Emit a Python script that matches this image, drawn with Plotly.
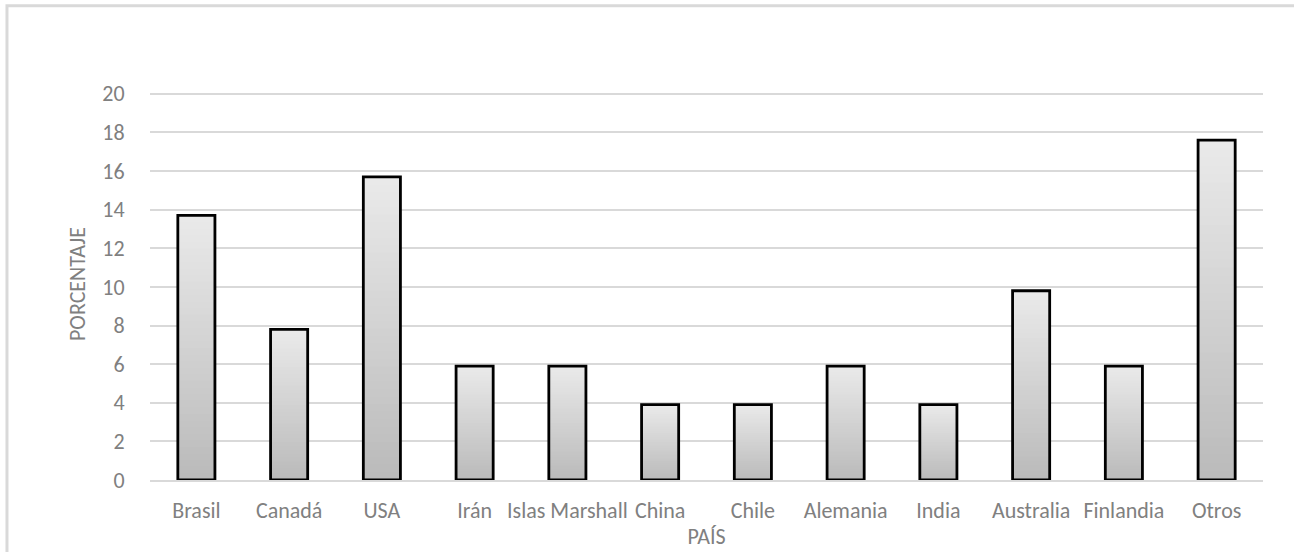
import plotly.graph_objects as go

# Share of records by country (%)
paises = ["Brasil", "Canadá", "USA", "Irán", "Islas Marshall", "China",
          "Chile", "Alemania", "India", "Australia", "Finlandia", "Otros"]
porcentaje = [13.7, 7.8, 15.7, 5.9, 5.9, 3.9, 3.9, 5.9, 3.9, 9.8, 5.9, 17.6]

FONT = "Carlito, Lato, 'Open Sans', sans-serif"
TEXT_GREY = "#808080"
FS = 22
BAR_WIDTH = 0.4

fig = go.Figure()

# Vertical gradient inside each bar: stacked, slightly overlapping slices
# of each value, dark grey at the base to light grey at the top.
n_slices = 40
dark = (186, 186, 186)
light = (234, 234, 234)
for k in range(n_slices):
    t = (k + 0.5) / n_slices
    rgb = tuple(round(d + (l - d) * t) for d, l in zip(dark, light))
    bases = [v * k / n_slices for v in porcentaje]
    heights = [min(2.5 * v / n_slices, v - b) for v, b in zip(porcentaje, bases)]
    fig.add_trace(go.Bar(
        x=paises,
        y=heights,
        base=bases,
        width=BAR_WIDTH,
        marker=dict(color="rgb(%d,%d,%d)" % rgb, line=dict(width=0)),
        hoverinfo="skip",
        showlegend=False,
    ))

# Black outline of each bar
fig.add_trace(go.Bar(
    x=paises,
    y=porcentaje,
    width=BAR_WIDTH,
    marker=dict(color="rgba(0,0,0,0)", line=dict(color="black", width=2.8)),
    showlegend=False,
))

fig.update_layout(
    width=1294,
    height=552,
    margin=dict(l=150, r=31, t=88, b=72),
    barmode="overlay",
    plot_bgcolor="white",
    paper_bgcolor="white",
    font=dict(family=FONT, size=FS, color=TEXT_GREY),
    xaxis=dict(
        automargin=False,
        showgrid=False,
        showline=True,
        linecolor="#d9d9d9",
        linewidth=2,
        ticks="outside",
        ticklen=10,
        tickcolor="rgba(0,0,0,0)",
        tickfont=dict(family=FONT, size=FS, color=TEXT_GREY),
        title=dict(text="PAÍS", standoff=5,
                   font=dict(family=FONT, size=FS, color=TEXT_GREY)),
    ),
    yaxis=dict(
        automargin=False,
        range=[0, 20.3],
        tickvals=list(range(0, 21, 2)),
        showgrid=True,
        gridcolor="#d9d9d9",
        gridwidth=2,
        zeroline=False,
        showline=False,
        ticks="outside",
        ticklen=20,
        tickcolor="rgba(0,0,0,0)",
        tickfont=dict(family=FONT, size=FS, color=TEXT_GREY),
        title=dict(text="PORCENTAJE", standoff=10,
                   font=dict(family=FONT, size=FS, color=TEXT_GREY)),
    ),
    shapes=[dict(
        type="rect", xref="paper", yref="paper",
        x0=-0.1285, x1=1.2, y0=-0.4, y1=1.21,
        line=dict(color="#d9d9d9", width=3),
        fillcolor="rgba(0,0,0,0)",
        layer="below",
    )],
)

fig.write_html("out.html")
